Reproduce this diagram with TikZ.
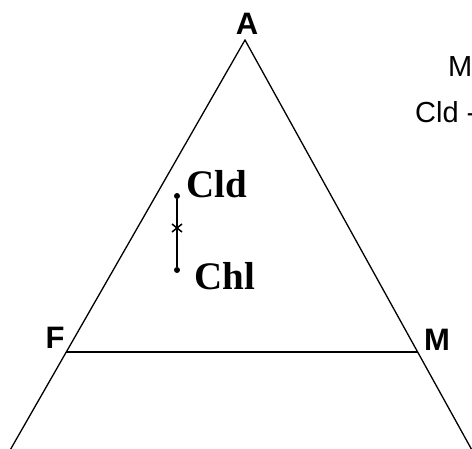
\documentclass[tikz,border=0pt]{standalone}
\usepackage{fontspec}
\setmainfont{Liberation Serif}
\setsansfont{Liberation Sans}
\begin{document}
\begin{tikzpicture}[x=1pt,y=-1pt,
  edge/.style={line width=1.3pt,black},
  vlabel/.style={font=\sffamily\bfseries\fontsize{31}{31}\selectfont,inner sep=0pt},
  plabel/.style={font=\rmfamily\bfseries\fontsize{39}{39}\selectfont,inner sep=0pt,anchor=west},
  side/.style={font=\sffamily\fontsize{29}{29}\selectfont,inner sep=0pt,anchor=west},
  pt/.style={circle,fill=black,inner sep=0pt,minimum size=6pt}]
\useasboundingbox (0,0) rectangle (472,448);
\clip (0,0) rectangle (472,448);
\coordinate (apex) at (245,40);
\coordinate (bl) at (9,452);
\coordinate (br) at (473,452);
\coordinate (f) at (66,352);
\coordinate (m) at (418,352);
\draw[edge] (bl) -- (apex) -- (br);
\draw[edge,line width=1.1pt] (f) -- (m);
\node[vlabel] (A) at (247,24) {A};
\node[vlabel] (F) at (55,338) {F};
\node[vlabel] (M) at (437,340) {M};
\node[side] (M2) at (448,67) {M};
\node[side] (Cld2) at (415,112) {Cld -};
\node[pt] (p1) at (177,196) {};
\node[pt] (p2) at (177,270) {};
\coordinate (x) at (177,228);
\draw[line width=1.4pt] (p1) -- (p2);
\draw[line width=1.5pt] ([shift={(-5,-4)}]x) -- ([shift={(5,4)}]x);
\draw[line width=1.5pt] ([shift={(-5,4)}]x) -- ([shift={(5,-4)}]x);
\node[plabel] (Cld) at (186,184) {Cld};
\node[plabel] (Chl) at (194,276) {Chl};
\end{tikzpicture}
\end{document}
